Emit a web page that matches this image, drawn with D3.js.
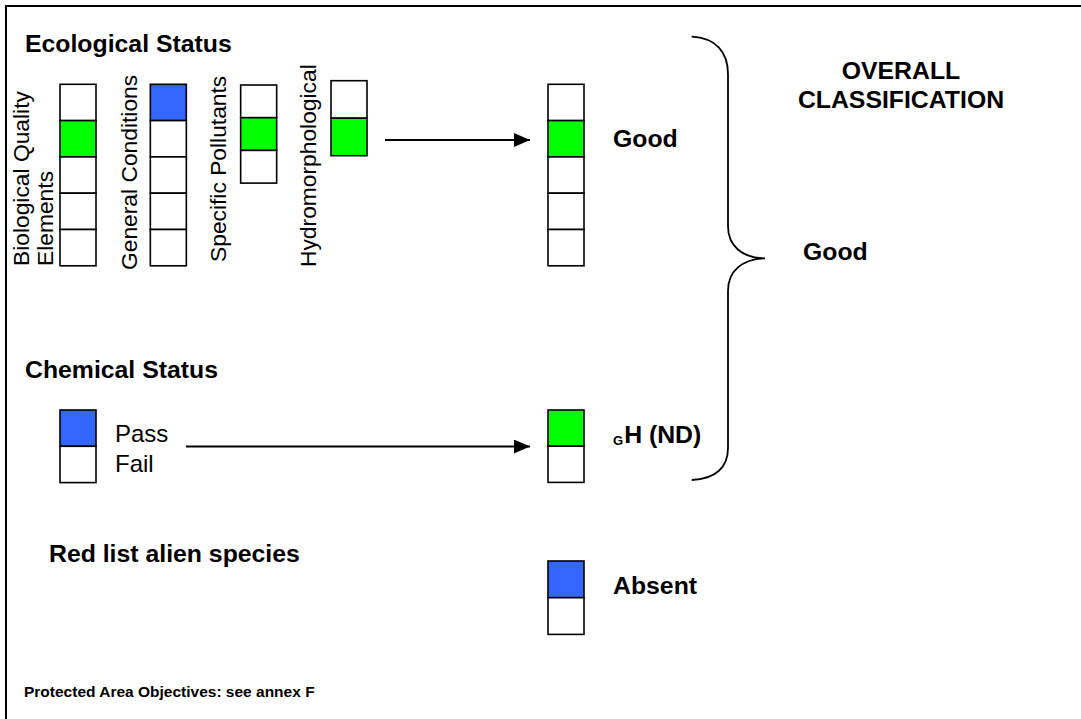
<!DOCTYPE html>
<html>
<head>
<meta charset="utf-8">
<script src="https://cdn.jsdelivr.net/npm/d3@7"></script>
<style>
  body { margin: 0; background: #fff; }
  svg { display: block; }
  text { font-family: "Liberation Sans", Arial, sans-serif; fill: #000; }
  .head { font-size: 24.8px; font-weight: bold; }
  .vlabel { font-size: 22.8px; }
  .plain { font-size: 24px; }
  .cell { stroke: #000; stroke-width: 1.6; }
</style>
</head>
<body>
<div class="chart"></div>
<script>
// Status classification diagram: ecological, chemical, red list -> overall

// ecological quality elements (left side)
var ecoLabels = [["Biological Quality", "Elements"], ["General Conditions"], ["Specific Pollutants"], ["Hydromorphological"]];
var ecoCellCounts = [5, 5, 3, 2];
var ecoMarkedCell = [1, 0, 1, 1];
var ecoMarkedClass = ["good", "high", "good", "good"];

// chemical status input
var chemOptions = ["Pass", "Fail"];
var chemMarkedCell = 0;
var chemMarkedClass = "high";

// resulting classifications (right column)
var sectionTitles = ["Ecological Status", "Chemical Status", "Red list alien species"];
var resultCellCounts = [5, 2, 2];
var resultMarkedCell = [1, 0, 0];
var resultMarkedClass = ["good", "good", "high"];
var resultLabels = ["Good", "H (ND)", "Absent"];
var resultSubscripts = ["", "G", ""];

var overallTitle = ["OVERALL", "CLASSIFICATION"];
var overallResult = "Good";
var footnote = "Protected Area Objectives: see annex F";

var svgWidth = 1081;
var svgHeight = 719;

var classColor = d3.scaleOrdinal()
    .domain(["high", "good"])
    .range(["#3366ff", "#00ff00"]);

var svg = d3.select(".chart")
    .append("svg")
    .attr("width", svgWidth)
    .attr("height", svgHeight);

svg.append("rect")
    .attr("width", svgWidth)
    .attr("height", svgHeight)
    .attr("fill", "#fff");

// outer frame (right and bottom edges run off the page)
svg.append("rect")
    .attr("x", 6)
    .attr("y", 6)
    .attr("width", 1200)
    .attr("height", 900)
    .attr("fill", "none")
    .attr("stroke", "#000")
    .attr("stroke-width", 2);

var defs = svg.append("defs");
defs.append("marker")
    .attr("id", "arrow")
    .attr("viewBox", "0 0 16 14")
    .attr("refX", 16)
    .attr("refY", 7)
    .attr("markerWidth", 16)
    .attr("markerHeight", 14)
    .attr("markerUnits", "userSpaceOnUse")
    .attr("orient", "auto")
    .append("path")
    .attr("d", "M0,0 L16,7 L0,14 Z")
    .attr("fill", "#000");

// draw a stack of class cells, one of them filled
function drawStack(g, x, top, bottom, n, marked, cls) {
    var y = d3.scaleLinear().domain([0, n]).range([top, bottom]);
    g.selectAll(null)
        .data(d3.range(n))
        .enter()
        .append("rect")
        .attr("class", "cell")
        .attr("x", x)
        .attr("y", d => y(d))
        .attr("width", 36)
        .attr("height", d => y(d + 1) - y(d))
        .attr("fill", d => d === marked ? classColor(cls) : "#fff");
}

// section headings
var headPos = [[25, 52], [25, 378], [49, 562]];
svg.selectAll(".sectionTitle")
    .data(sectionTitles)
    .enter()
    .append("text")
    .attr("class", "head sectionTitle")
    .attr("x", (d, i) => headPos[i][0])
    .attr("y", (d, i) => headPos[i][1])
    .text(d => d);

// ecological element columns
var xEco = d3.scaleBand()
    .domain(ecoLabels.map(d => d[0]))
    .range([60, 367])
    .paddingInner(0.6015)
    .paddingOuter(0);

var ecoTop = [84.3, 84.3, 85, 80.7];
var ecoCellH = [36.3, 36.3, 32.7, 37.5];
var ecoLabelBottom = [266, 270, 262, 267];
var ecoLabelOffset = [[-31.5, -7], [-13], [-15], [-15]];

ecoLabels.forEach(function(lines, i) {
    var x0 = xEco(lines[0]);
    var g = svg.append("g");
    drawStack(g, x0, ecoTop[i], ecoTop[i] + ecoCellH[i] * ecoCellCounts[i],
        ecoCellCounts[i], ecoMarkedCell[i], ecoMarkedClass[i]);
    lines.forEach(function(line, j) {
        var bx = x0 + ecoLabelOffset[i][j];
        g.append("text")
            .attr("class", "vlabel")
            .attr("transform", `translate(${bx}, ${ecoLabelBottom[i]}) rotate(-90)`)
            .text(line);
    });
});

// chemical input
var chemG = svg.append("g");
drawStack(chemG, 60, 410, 482.6, chemOptions.length, chemMarkedCell, chemMarkedClass);
chemG.selectAll("text")
    .data(chemOptions)
    .enter()
    .append("text")
    .attr("class", "plain")
    .attr("x", 115)
    .attr("y", (d, i) => 441.7 + i * 30)
    .text(d => d);

// arrows into the result column
svg.append("line")
    .attr("x1", 385).attr("y1", 140)
    .attr("x2", 530).attr("y2", 140)
    .attr("stroke", "#000").attr("stroke-width", 2)
    .attr("marker-end", "url(#arrow)");

svg.append("line")
    .attr("x1", 186).attr("y1", 446.5)
    .attr("x2", 530).attr("y2", 446.5)
    .attr("stroke", "#000").attr("stroke-width", 2)
    .attr("marker-end", "url(#arrow)");

// result column
var resTop = [84.3, 410, 561];
var resBottom = [265.8, 482.4, 634.4];
var resBaseline = [147, 443, 594];

resultLabels.forEach(function(label, i) {
    var g = svg.append("g");
    drawStack(g, 548, resTop[i], resBottom[i], resultCellCounts[i], resultMarkedCell[i], resultMarkedClass[i]);
    var t = g.append("text")
        .attr("class", "head")
        .attr("x", 613)
        .attr("y", resBaseline[i]);
    if (resultSubscripts[i]) {
        t.append("tspan")
            .attr("font-size", 13)
            .attr("dy", 2)
            .text(resultSubscripts[i]);
        t.append("tspan")
            .attr("dy", -2)
            .attr("dx", 1)
            .text(label);
    } else {
        t.text(label);
    }
});

// curly brace grouping the results
var brace = d3.path();
brace.moveTo(691.7, 36.7);
brace.bezierCurveTo(716, 38, 728, 52, 728, 74);
brace.lineTo(728, 226);
brace.bezierCurveTo(728, 246, 742, 258, 765, 258.3);
brace.bezierCurveTo(742, 259, 728, 271, 728, 291);
brace.lineTo(728, 448);
brace.bezierCurveTo(728, 467, 716, 479, 691.7, 480);

svg.append("path")
    .attr("d", brace.toString())
    .attr("fill", "none")
    .attr("stroke", "#000")
    .attr("stroke-width", 1.8);

// overall classification
svg.selectAll(".overall")
    .data(overallTitle)
    .enter()
    .append("text")
    .attr("class", "head overall")
    .attr("x", 901)
    .attr("y", (d, i) => 79 + i * 29.3)
    .attr("text-anchor", "middle")
    .text(d => d);

svg.append("text")
    .attr("class", "head")
    .attr("x", 803)
    .attr("y", 260)
    .text(overallResult);

// footnote
svg.append("text")
    .attr("x", 24)
    .attr("y", 697)
    .attr("font-size", 15.5)
    .attr("font-weight", "bold")
    .text(footnote);
</script>
</body>
</html>
